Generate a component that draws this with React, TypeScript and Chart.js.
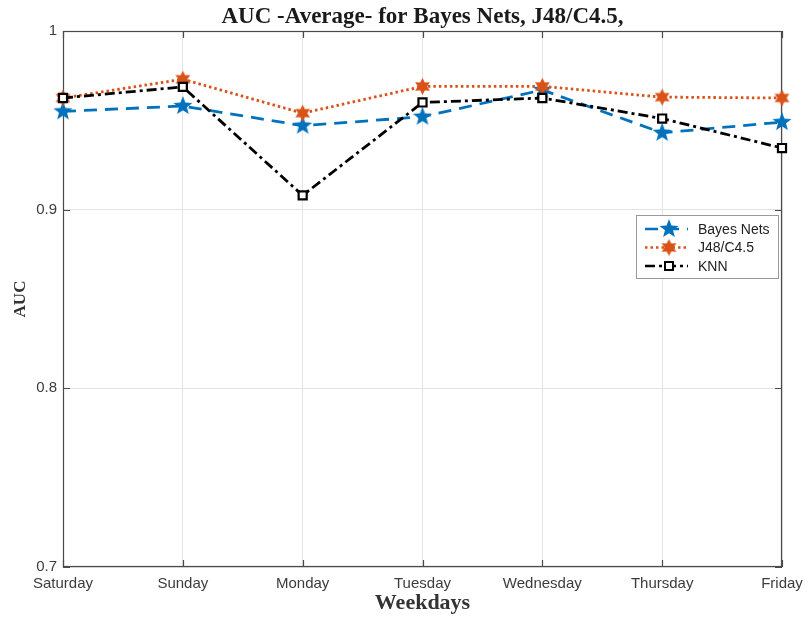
import React, { useEffect, useRef } from 'react';
import { Chart, registerables } from 'chart.js';

Chart.register(...registerables);

const weekdays = ['Saturday', 'Sunday', 'Monday', 'Tuesday', 'Wednesday', 'Thursday', 'Friday'];
const bayesNets = [0.955, 0.958, 0.947, 0.952, 0.967, 0.943, 0.949];
const j48 = [0.9625, 0.973, 0.954, 0.969, 0.969, 0.963, 0.9625];
const knn = [0.9625, 0.9687, 0.908, 0.96, 0.9625, 0.951, 0.9345];
const yTickValues = [0.7, 0.8, 0.9, 1];
const yTickLabels = ['0.7', '0.8', '0.9', '1'];
const seriesNames = ['Bayes Nets', 'J48/C4.5', 'KNN'];
const chartTitle = 'AUC -Average- for Bayes Nets, J48/C4.5,';

const BLUE = '#0072BD';
const ORANGE = '#D95319';

function makeStar(points: number, outer: number, inner: number, color: string): HTMLCanvasElement {
  const size = Math.ceil(outer * 2 + 2);
  const c = document.createElement('canvas');
  c.width = size;
  c.height = size;
  const g = c.getContext('2d')!;
  const cx = size / 2;
  const cy = size / 2;
  g.beginPath();
  for (let i = 0; i < points * 2; i++) {
    const r = i % 2 === 0 ? outer : inner;
    const a = -Math.PI / 2 + (i * Math.PI) / points;
    const x = cx + r * Math.cos(a);
    const y = cy + r * Math.sin(a);
    if (i === 0) g.moveTo(x, y);
    else g.lineTo(x, y);
  }
  g.closePath();
  g.fillStyle = color;
  g.fill();
  return c;
}

export default function App() {
  const ref = useRef<HTMLCanvasElement | null>(null);

  useEffect(() => {
    document.body.style.margin = '0';
    const canvas = ref.current;
    if (!canvas) return;

    const pentagram = makeStar(5, 10, 4.2, BLUE);
    const hexagram = makeStar(6, 8.5, 4.6, ORANGE);

    const boxPlugin = {
      id: 'boxPlugin',
      beforeDatasetsDraw(chart: any) {
        const { ctx, chartArea } = chart;
        const { left, right, top, bottom } = chartArea;
        ctx.save();
        ctx.strokeStyle = '#4a4a4a';
        ctx.lineWidth = 1.2;
        ctx.strokeRect(left + 0.5, top + 0.5, right - left - 1, bottom - top - 1);
        const xs = chart.scales.x;
        const ys = chart.scales.y;
        ctx.beginPath();
        weekdays.forEach((_, i) => {
          const x = Math.round(xs.getPixelForValue(i)) + 0.5;
          ctx.moveTo(x, bottom);
          ctx.lineTo(x, bottom - 7);
          ctx.moveTo(x, top);
          ctx.lineTo(x, top + 7);
        });
        yTickValues.forEach((v) => {
          const y = Math.round(ys.getPixelForValue(v)) + 0.5;
          ctx.moveTo(left, y);
          ctx.lineTo(left + 7, y);
          ctx.moveTo(right, y);
          ctx.lineTo(right - 7, y);
        });
        ctx.stroke();
        ctx.restore();
      },
      afterDraw(chart: any) {
        const { ctx, chartArea } = chart;
        ctx.save();
        ctx.fillStyle = '#1a1a1a';
        ctx.font = 'bold 23px "Liberation Serif", "Times New Roman", serif';
        ctx.textAlign = 'center';
        ctx.textBaseline = 'alphabetic';
        ctx.fillText(chartTitle, (chartArea.left + chartArea.right) / 2, 23);
        ctx.restore();
      },
    };

    const legendPlugin = {
      id: 'customLegend',
      afterDraw(chart: any) {
        const { ctx, chartArea } = chart;
        const x0 = chartArea.right - 146;
        const y0 = chartArea.top + 184;
        const w = 142;
        const h = 63;
        ctx.save();
        ctx.fillStyle = '#ffffff';
        ctx.fillRect(x0, y0, w, h);
        ctx.strokeStyle = '#9a9a9a';
        ctx.lineWidth = 1;
        ctx.strokeRect(x0 + 0.5, y0 + 0.5, w, h);
        chart.data.datasets.forEach((ds: any, i: number) => {
          const y = y0 + 14 + i * 18.5;
          ctx.save();
          ctx.strokeStyle = ds.borderColor;
          ctx.lineWidth = 2.5;
          ctx.setLineDash(ds.borderDash || []);
          ctx.beginPath();
          ctx.moveTo(x0 + 9, y);
          ctx.lineTo(x0 + 52, y);
          ctx.stroke();
          ctx.restore();
          const mx = x0 + 33;
          if (ds.pointStyle instanceof HTMLCanvasElement) {
            const img = ds.pointStyle;
            ctx.drawImage(img, mx - img.width / 2, y - img.height / 2);
          } else {
            ctx.fillStyle = '#fff';
            ctx.strokeStyle = '#000';
            ctx.lineWidth = 2;
            ctx.fillRect(mx - 4, y - 4, 8, 8);
            ctx.strokeRect(mx - 4, y - 4, 8, 8);
          }
          ctx.fillStyle = '#222';
          ctx.font = '14px "Liberation Sans", Arial, sans-serif';
          ctx.textBaseline = 'middle';
          ctx.textAlign = 'left';
          ctx.fillText(ds.label, x0 + 62, y + 1);
        });
        ctx.restore();
      },
    };

    const chart = new Chart(canvas, {
      type: 'line',
      data: {
        labels: weekdays,
        datasets: [
          {
            label: seriesNames[0],
            data: bayesNets,
            borderColor: BLUE,
            backgroundColor: BLUE,
            borderWidth: 2.8,
            borderDash: [13, 8],
            pointStyle: pentagram as any,
            tension: 0,
            fill: false,
            clip: false as any,
            order: 2,
          },
          {
            label: seriesNames[1],
            data: j48,
            borderColor: ORANGE,
            backgroundColor: ORANGE,
            borderWidth: 2.8,
            borderDash: [2.5, 3],
            pointStyle: hexagram as any,
            tension: 0,
            fill: false,
            clip: false as any,
            order: 1,
          },
          {
            label: seriesNames[2],
            data: knn,
            borderColor: '#000000',
            backgroundColor: '#ffffff',
            borderWidth: 2.8,
            borderDash: [10, 4, 3, 4],
            pointStyle: 'rect',
            pointRadius: 5.7,
            pointBorderWidth: 2.2,
            pointBorderColor: '#000000',
            pointBackgroundColor: '#ffffff',
            tension: 0,
            fill: false,
            clip: false as any,
            order: 0,
          },
        ],
      },
      options: {
        responsive: false,
        animation: false,
        events: [],
        layout: { padding: { left: 0, right: 26, top: 31, bottom: 0 } },
        plugins: {
          legend: { display: false },
          tooltip: { enabled: false },
          title: { display: false },
        },
        scales: {
          x: {
            type: 'category',
            offset: false,
            grid: { color: '#e3e3e3', drawTicks: false },
            border: { display: false },
            ticks: {
              color: '#3c3c3c',
              font: { family: '"Liberation Sans", Arial, sans-serif', size: 15 },
              padding: 8,
              maxRotation: 0,
              autoSkip: false,
            },
            title: {
              display: true,
              text: 'Weekdays',
              color: '#333',
              font: { family: '"Liberation Serif", "Times New Roman", serif', size: 22, weight: 'bold' },
              padding: { top: 0, bottom: 0 },
            },
            afterFit(scale: any) {
              scale.height = 50;
              scale.paddingLeft = 0;
              scale.paddingRight = 0;
            },
          },
          y: {
            min: 0.7,
            max: 1,
            grid: { color: '#e3e3e3', drawTicks: false },
            border: { display: false },
            afterBuildTicks(scale: any) {
              scale.ticks = yTickValues.map((v) => ({ value: v }));
            },
            ticks: {
              color: '#3c3c3c',
              font: { family: '"Liberation Sans", Arial, sans-serif', size: 15 },
              padding: 6,
              callback: (value: any) => {
                const idx = yTickValues.findIndex((v) => Math.abs(v - Number(value)) < 1e-9);
                return idx >= 0 ? yTickLabels[idx] : '';
              },
            },
            title: {
              display: true,
              text: 'AUC',
              color: '#333',
              font: { family: '"Liberation Serif", "Times New Roman", serif', size: 17, weight: 'bold' },
              padding: { top: 10, bottom: 0 },
            },
            afterFit(scale: any) {
              scale.width = 63;
            },
          },
        },
      },
      plugins: [boxPlugin, legendPlugin],
    });

    return () => chart.destroy();
  }, []);

  return (
    <div style={{ width: 808, height: 617, background: '#fff' }}>
      <canvas ref={ref} width={808} height={617} style={{ display: 'block' }} />
    </div>
  );
}
